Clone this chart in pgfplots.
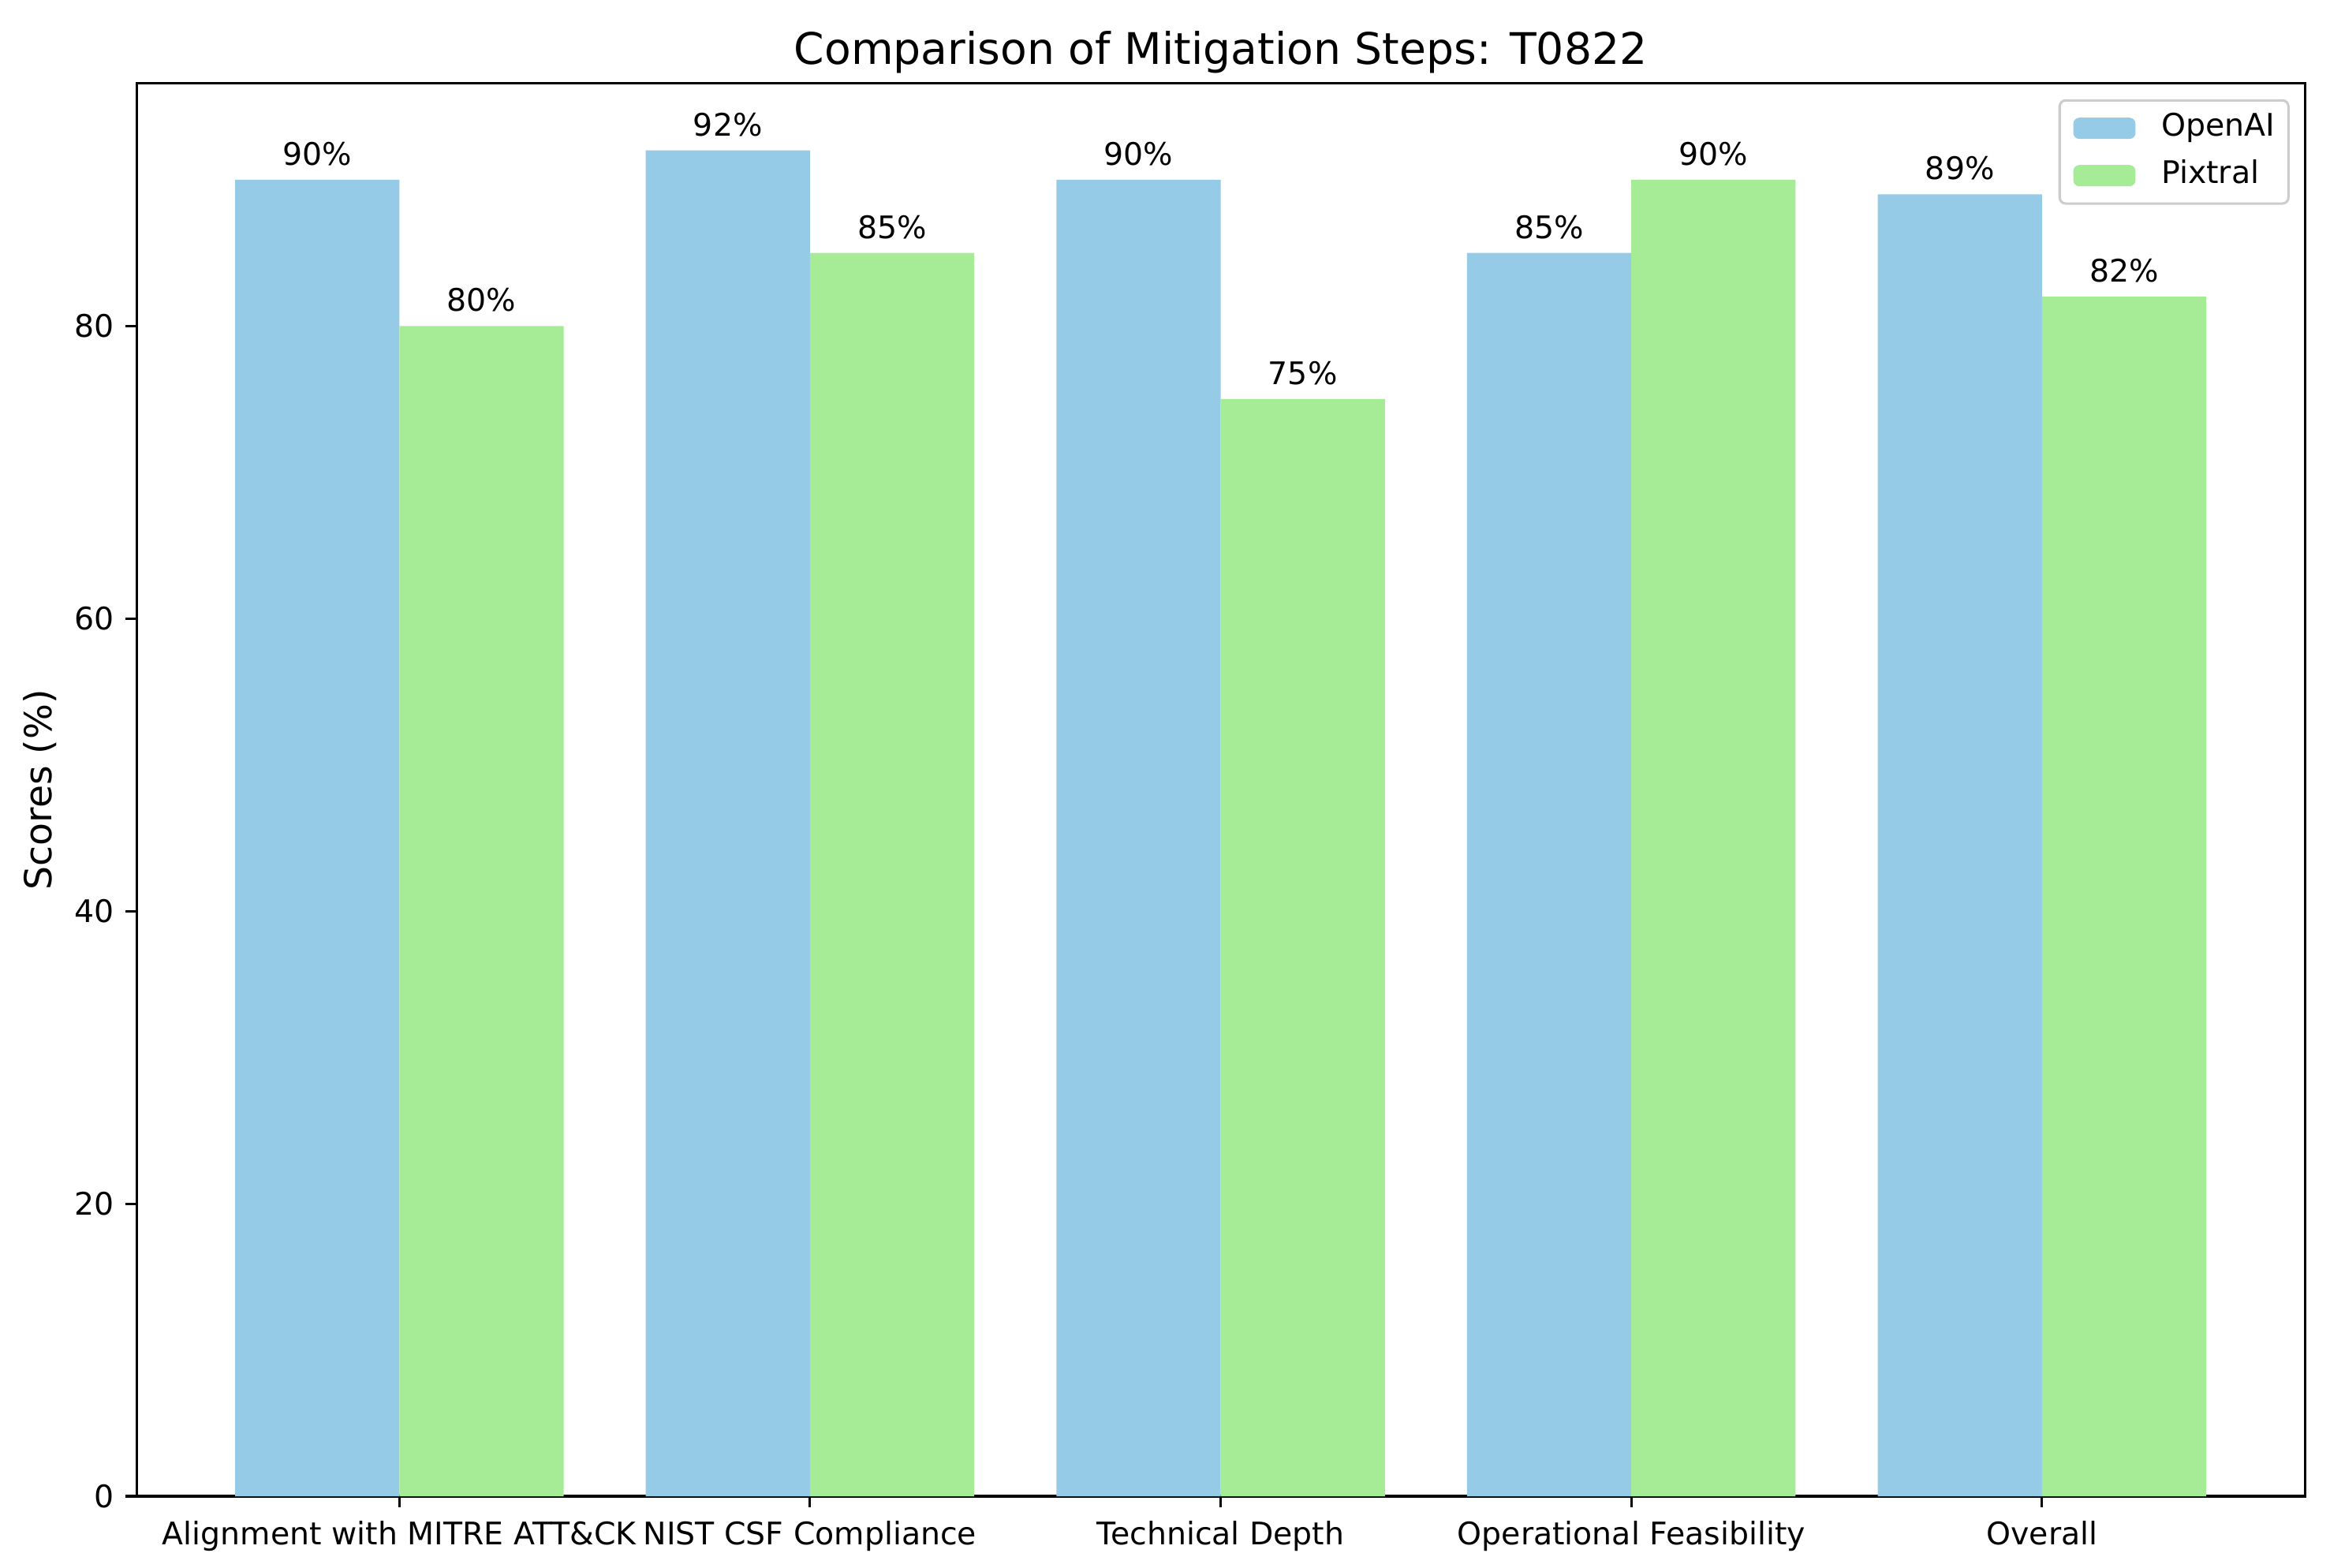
\documentclass[border=0pt]{standalone}
\usepackage{pgfplots}
\pgfplotsset{compat=1.18}
\usepackage{fontspec}
\setmainfont{DejaVu Sans}
\definecolor{barblue}{RGB}{150,203,232}
\definecolor{bargreen}{RGB}{166,235,150}
\definecolor{leggray}{RGB}{204,204,204}
\begin{document}
\begin{tikzpicture}
\useasboundingbox (-45pt,-23.4pt) rectangle (723pt,493.2pt);
\begin{axis}[
  at={(0,0)}, anchor=south west,
  scale only axis,
  width=714.7pt, height=465.8pt,
  xmin=-0.64, xmax=4.64,
  ymin=0, ymax=96.6,
  ybar, bar width=0.4,
  xtick={0,1,2,3,4},
  xticklabels={Alignment with MITRE ATT\&CK, NIST CSF Compliance, Technical Depth, Operational Feasibility, Overall},
  ytick={0,20,40,60,80},
  tick align=outside,
  major tick length=3.6pt,
  tick style={line width=0.8pt, black},
  axis line style={line width=0.8pt},
  xtick pos=bottom, ytick pos=left,
  /pgf/number format/assume math mode=true,
  ticklabel style={font=\fontsize{10.25}{12}\selectfont},
  xticklabel style={inner sep=0pt, yshift=-4.5pt},
  yticklabel style={inner sep=0pt, xshift=-3.5pt},
  ylabel={Scores (\%)},
  ylabel style={font=\fontsize{12.3}{14}\selectfont, yshift=2.5pt},
  title={Comparison of Mitigation Steps: T0822},
  title style={font=\fontsize{14.35}{16}\selectfont, yshift=-6.4pt},
  legend style={at={(axis description cs:1,1)}, anchor=north east, xshift=-5pt, yshift=-5.3pt,
    draw=leggray, line width=0.8pt, rounded corners=2pt, fill=white, fill opacity=0.8, text opacity=1,
    font=\fontsize{10.25}{12}\selectfont, inner xsep=4.5pt, inner ysep=4.2pt, row sep=5.6pt,
    nodes={inner sep=0pt, text height=7.6pt, text depth=2.4pt}},
  legend cell align=left,
  nodes near coords={\pgfmathprintnumber[fixed,precision=0]{\pgfplotspointmeta}\%},
  every node near coord/.append style={font=\fontsize{10.25}{12}\selectfont, anchor=base, inner sep=0pt, yshift=4.8pt, text=black},
]
\addplot[bar shift=-0.2, fill=barblue, draw=none,
  legend image code/.code={\fill[barblue, fill opacity=1] (0pt,-3.5pt) rectangle (20.5pt,3.5pt); \path (29pt,0pt);}]
  coordinates {(0,90) (1,92) (2,90) (3,85) (4,89)};
\addlegendentry{OpenAI}
\addplot[bar shift=0.2, fill=bargreen, draw=none,
  legend image code/.code={\fill[bargreen, fill opacity=1] (0pt,-3.5pt) rectangle (20.5pt,3.5pt); \path (29pt,0pt);}]
  coordinates {(0,80) (1,85) (2,75) (3,90) (4,82)};
\addlegendentry{Pixtral}
\end{axis}
\end{tikzpicture}
\end{document}
